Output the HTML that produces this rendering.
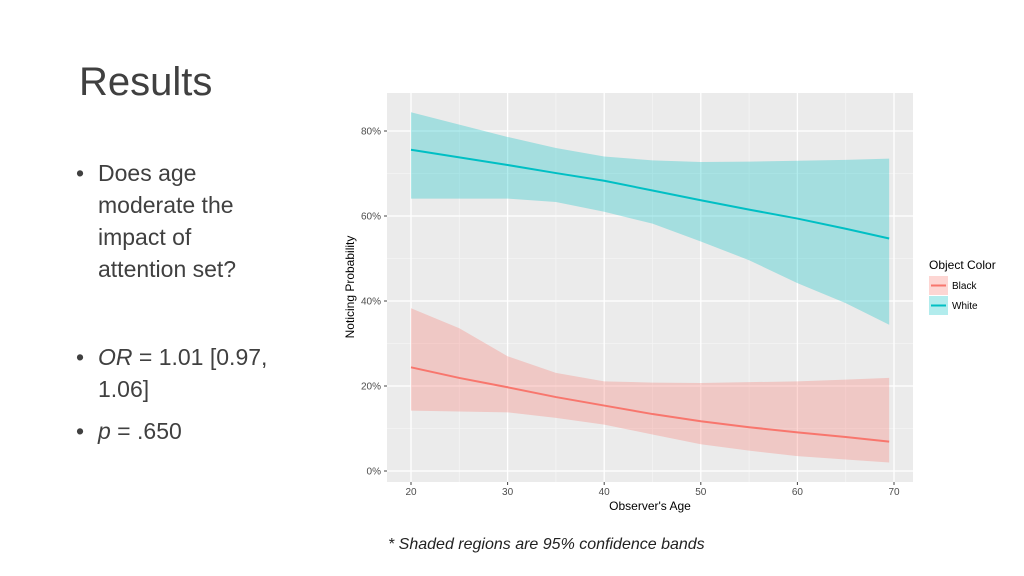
<!DOCTYPE html>
<html><head><meta charset="utf-8"><style>
body{margin:0;width:1024px;height:576px;background:#fff;overflow:hidden;position:relative;font-family:"Liberation Sans",sans-serif}
.t{position:absolute;font-family:"Liberation Sans",sans-serif;color:#333}
.b{position:absolute;font-size:23px;color:#404040;line-height:32px;white-space:nowrap}
</style></head><body>
<div class="t" style="left:79px;top:60px;font-size:40px;color:#404040">Results</div>
<div>
<div class="b" style="left:76px;top:157px">•</div>
<div class="b" style="left:98px;top:157px">Does age<br>moderate the<br>impact of<br>attention set?</div>
<div class="b" style="left:76px;top:341px">•</div>
<div class="b" style="left:98px;top:341px"><i>OR</i> = 1.01 [0.97,<br>1.06]</div>
<div class="b" style="left:76px;top:415px">•</div>
<div class="b" style="left:98px;top:415px"><i>p</i> = .650</div>
</div>
<div class="t" style="left:388px;top:536px;font-size:16px;font-style:italic;color:#222">* Shaded regions are 95% confidence bands</div>
<svg id="chart" width="1024" height="576" style="position:absolute;left:0;top:0"></svg>
<script>
const ages=[20,25,30,35,40,45,50,55,60,65,69.5];
const whiteFit=[75.6,73.8,72.0,70.1,68.3,66.0,63.7,61.5,59.4,57.0,54.7];
const whiteUpper=[84.4,81.5,78.6,76.0,74.0,73.1,72.7,72.8,73.0,73.2,73.5];
const whiteLower=[64.1,64.1,64.1,63.3,61.0,58.2,54.0,49.6,44.2,39.5,34.4];
const blackFit=[24.4,21.9,19.7,17.4,15.4,13.4,11.7,10.3,9.1,8.0,6.9];
const blackUpper=[38.3,33.6,27.0,23.1,21.1,20.8,20.7,20.9,21.1,21.5,21.9];
const blackLower=[14.2,14.0,13.8,12.5,10.9,8.6,6.3,4.8,3.5,2.7,2.0];
const xTicks=[20,30,40,50,60,70];
const yTicks=[0,20,40,60,80];
const NS="http://www.w3.org/2000/svg";
const svg=document.getElementById('chart');
const X=v=>411+(v-20)*(894-411)/50;
const Y=p=>471-p*(471-131)/80;
function mk(tag,attrs,parent){const e=document.createElementNS(NS,tag);for(const k in attrs)e.setAttribute(k,attrs[k]);(parent||svg).appendChild(e);return e;}
const bg=mk('rect',{x:387,y:93,width:526,height:389,fill:'#ebebeb'});


for(let i=0;i<xTicks.length-1;i++){const m=(xTicks[i]+xTicks[i+1])/2;mk('line',{x1:X(m),x2:X(m),y1:93,y2:482,stroke:'#f5f5f5','stroke-width':0.7});}
for(let i=0;i<yTicks.length-1;i++){const m=(yTicks[i]+yTicks[i+1])/2;mk('line',{x1:387,x2:913,y1:Y(m),y2:Y(m),stroke:'#f5f5f5','stroke-width':0.7});}
xTicks.forEach(v=>{
const g=mk('line',{x1:X(v),x2:X(v),y1:93,y2:482,stroke:'#fff','stroke-width':1.3});


mk('line',{x1:X(v),x2:X(v),y1:482,y2:485,stroke:'#444'});
const t=mk('text',{x:X(v),y:495,'font-size':10,fill:'#4d4d4d','text-anchor':'middle','font-family':'Liberation Sans'});t.textContent=v;


});
yTicks.forEach(v=>{
const g=mk('line',{x1:387,x2:913,y1:Y(v),y2:Y(v),stroke:'#fff','stroke-width':1.3});


mk('line',{x1:384,x2:387,y1:Y(v),y2:Y(v),stroke:'#444'});
const t=mk('text',{x:381,y:Y(v)+3.5,'font-size':10,fill:'#4d4d4d','text-anchor':'end','font-family':'Liberation Sans'});t.textContent=v+'%';


});
function band(up,lo,color,name){
let d='M'+ages.map((a,i)=>X(a)+','+Y(up[i])).join('L');
d+='L'+ages.map((a,i)=>[X(a),Y(lo[i])]).reverse().map(p=>p.join(',')).join('L')+'Z';
const p=mk('path',{d:d,fill:color,'fill-opacity':0.3});


}
function line(v,color,name){
const p=mk('path',{d:'M'+ages.map((a,i)=>X(a)+','+Y(v[i])).join('L'),fill:'none',stroke:color,'stroke-width':2});


}
band(whiteUpper,whiteLower,'#00bfc4','white-confidence-band');
band(blackUpper,blackLower,'#f8766d','black-confidence-band');
line(whiteFit,'#00bfc4','white-fit-line');
line(blackFit,'#f8766d','black-fit-line');
const xt=mk('text',{x:650,y:510,'font-size':12,fill:'#000','text-anchor':'middle','font-family':'Liberation Sans'});xt.textContent="Observer's Age";


const yt=mk('text',{x:0,y:0,'font-size':12,fill:'#000','text-anchor':'middle','font-family':'Liberation Sans',transform:'translate(354,287) rotate(-90)'});yt.textContent='Noticing Probability';


const lt=mk('text',{x:929,y:269,'font-size':12,fill:'#000','font-family':'Liberation Sans'});lt.textContent='Object Color';


[['Black','#f8766d',276],['White','#00bfc4',296]].forEach(([n,c,y])=>{
const g=mk('g',{});


mk('rect',{x:929,y:y,width:19,height:19,fill:c,'fill-opacity':0.3},g);
mk('line',{x1:931,x2:946,y1:y+9.5,y2:y+9.5,stroke:c,'stroke-width':2},g);
const t=mk('text',{x:952,y:y+13,'font-size':10,fill:'#000','font-family':'Liberation Sans'},g);t.textContent=n;
});
</script>
</body></html>
